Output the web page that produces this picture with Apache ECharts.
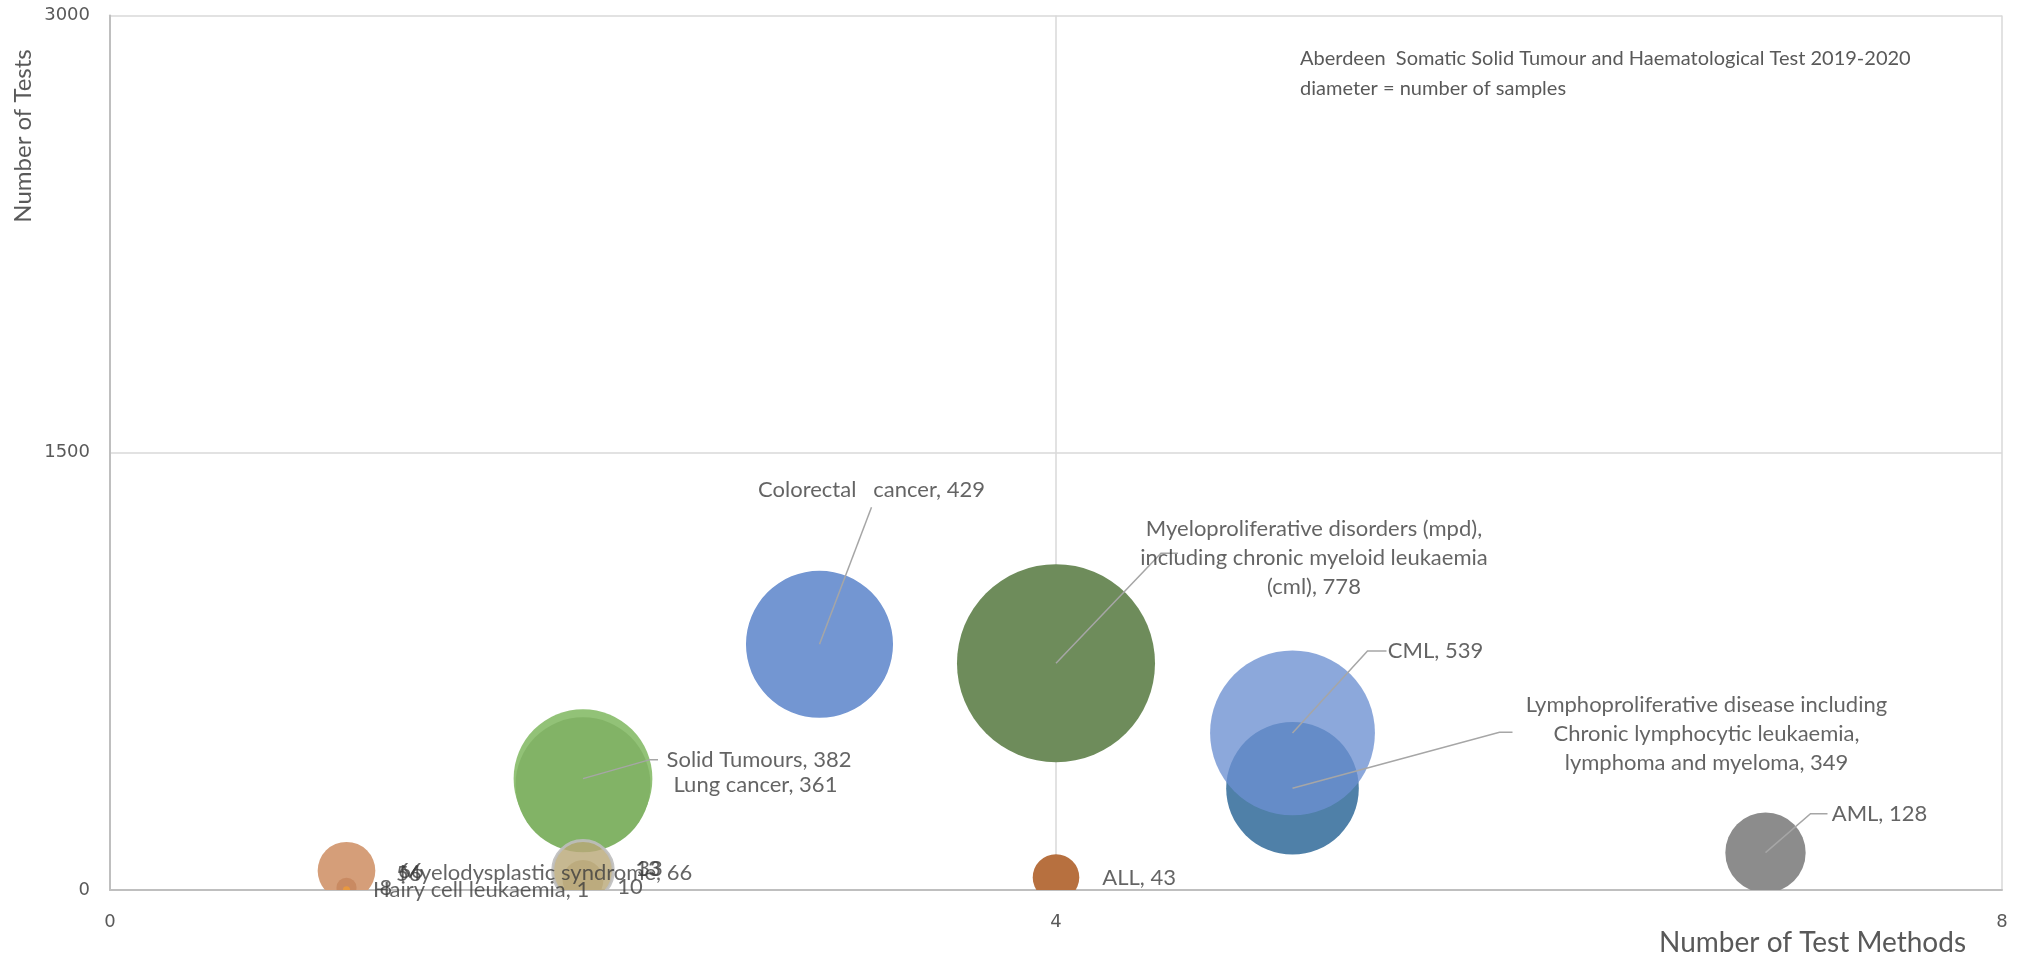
<!DOCTYPE html>
<html>
<head>
<meta charset="utf-8">
<title>Aberdeen Somatic Solid Tumour and Haematological Test 2019-2020</title>
<script src="https://cdn.jsdelivr.net/npm/echarts@6/dist/echarts.min.js"></script>
<style>
  html, body { margin: 0; padding: 0; background: #ffffff; }
  #chart { width: 2028px; height: 954px; }
</style>
</head>
<body>
<div id="chart"></div>
<script>
// ---- data -------------------------------------------------------------
// Each bubble: category name (empty = value-only label), number of test
// methods (x), number of tests (y) and number of samples (bubble size).
const categories = [
  'Lymphoproliferative disease including\nChronic lymphocytic leukaemia,\nlymphoma and myeloma',
  'CML',
  'Myeloproliferative disorders (mpd),\nincluding chronic myeloid leukaemia\n(cml)',
  'Colorectal   cancer',
  'Solid Tumours',
  'Lung cancer',
  'AML',
  'ALL',
  '',
  '',
  '',
  'Hairy cell leukaemia',
  '',
  '',
  '',
  'Myelodysplastic syndrome'
];
const testMethods = [5, 5, 4, 3, 2, 2, 7, 4, 1, 1, 1, 1, 2, 2, 2, 2];
const numberOfTests = [349, 539, 778, 843, 382, 361, 128, 43, 56, 66, 8, 1, 33, 13, 10, 66];
const numberOfSamples = [349, 539, 778, 429, 382, 361, 128, 43, 56, 66, 8, 1, 33, 13, 10, 66];

const xTicks = [0, 4, 8];
const yTicks = [0, 1500, 3000];

// ---- styling ----------------------------------------------------------
const bubbleFill = [
  '#4f80a8', 'rgba(108,143,209,0.78)', '#6e8c5b', '#7396d2',
  '#92c277', '#82b366', '#8c8c8c', '#b7703f',
  '#d59e79', '#d59e79', '#c98a62', '#e8983f',
  '#c8b994', '#c8b994', '#c8b994', 'rgba(186,168,121,0.82)'
];
const bubbleStroke = [
  null, null, null, null, null, null, null, null,
  null, null, null, null, null, null, null, 'rgba(190,190,190,0.9)'
];
// diameter (px) = BUBBLE_K * sqrt(samples)
const BUBBLE_K = 7.1;

// label placement: 'right' = beside the bubble, otherwise a pixel offset
// of the label centre from the bubble centre
const labelPlacement = [
  [414, -54], [143, -82], [258, -105], [52, -154],
  [176, -19], 'right', [114, -39], 'right',
  'right', 'right', 'right', 'right',
  [67, -11], [65, -17], 'right', [-37, 2]
];
// leader lines: bends/ends relative to bubble centre (px)
const leaderPoints = {
  0: [[207, -56], [220, -56]],
  1: [[75, -82], [94, -82]],
  2: [[105, -110], [122, -110]],
  3: [[52, -137]],
  4: [[67, -19], [75, -19]],
  6: [[45, -39], [62, -39]]
};

const FONT = 'Lato, "Open Sans", sans-serif';
const TEXT_COLOR = '#3d3d3d';

// ---- series data ------------------------------------------------------
const points = testMethods.map((x, i) => [x, numberOfTests[i], numberOfSamples[i], i]);

function labelText(i) {
  const name = categories[i];
  return name ? name + ', ' + numberOfSamples[i] : String(numberOfSamples[i]);
}

const labelData = points.map((p, i) => {
  const place = labelPlacement[i];
  const label = place === 'right'
    ? { position: 'right', distance: 23 }
    : { position: 'inside', offset: place, align: 'center', verticalAlign: 'middle' };
  return { value: p, label: Object.assign({ formatter: labelText(i) }, label) };
});

const leaderData = Object.keys(leaderPoints).map(k => {
  const i = +k;
  return [testMethods[i], numberOfTests[i], i];
});

const chart = echarts.init(document.getElementById('chart'), null, { renderer: 'canvas' });

chart.setOption({
  animation: false,
  backgroundColor: '#ffffff',
  grid: { left: 110, right: 26, top: 15.5, bottom: 64, containLabel: false },
  xAxis: {
    type: 'value',
    min: xTicks[0],
    max: xTicks[xTicks.length - 1],
    interval: xTicks[1] - xTicks[0],
    axisLine: { show: true, lineStyle: { color: '#bfbfbf', width: 2 } },
    axisTick: { show: false },
    axisLabel: {
      margin: 23, color: '#595959', fontSize: 18, fontFamily: 'DejaVu Sans',
      formatter: v => String(v)
    },
    splitLine: { show: true, lineStyle: { color: '#d9d9d9', width: 1.5 } }
  },
  yAxis: {
    type: 'value',
    min: yTicks[0],
    max: yTicks[yTicks.length - 1],
    interval: yTicks[1] - yTicks[0],
    axisLine: { show: true, lineStyle: { color: '#bfbfbf', width: 2 } },
    axisTick: { show: false },
    axisLabel: {
      margin: 20, color: '#595959', fontSize: 18, fontFamily: 'DejaVu Sans',
      formatter: v => String(v)
    },
    splitLine: { show: true, lineStyle: { color: '#d9d9d9', width: 1.5 } }
  },
  graphic: [
    {
      type: 'text', left: 1300, top: 44, z: 10,
      style: {
        text: 'Aberdeen  Somatic Solid Tumour and Haematological Test 2019-2020\ndiameter = number of samples',
        font: '20px ' + FONT, fill: '#595959', lineHeight: 30
      }
    },
    {
      type: 'text', x: 1966, y: 943, z: 10,
      style: {
        text: 'Number of Test Methods', font: '28px ' + FONT, fill: '#595959',
        align: 'right', verticalAlign: 'middle'
      }
    },
    {
      type: 'text', x: 23, y: 136, rotation: Math.PI / 2, z: 10,
      style: {
        text: 'Number of Tests', font: '24px ' + FONT, fill: '#595959',
        align: 'center', verticalAlign: 'middle'
      }
    }
  ],
  series: [
    {
      // bubbles, clipped to the plot area
      type: 'custom',
      name: 'bubbles',
      clip: true,
      silent: true,
      z: 2,
      encode: { x: 0, y: 1 },
      data: points,
      renderItem: function (params, api) {
        const i = api.value(3);
        const c = api.coord([api.value(0), api.value(1)]);
        const r = BUBBLE_K * Math.sqrt(api.value(2)) / 2;
        const stroke = bubbleStroke[i];
        return {
          type: 'circle',
          shape: { cx: c[0], cy: c[1], r: stroke ? r + 1.5 : r },
          style: {
            fill: bubbleFill[i],
            stroke: stroke || null,
            lineWidth: stroke ? 3 : 0
          }
        };
      }
    },
    {
      // leader lines from bubble centres to moved labels
      type: 'custom',
      name: 'leaders',
      clip: false,
      silent: true,
      z: 3,
      encode: { x: 0, y: 1 },
      data: leaderData,
      renderItem: function (params, api) {
        const i = api.value(2);
        const c = api.coord([api.value(0), api.value(1)]);
        const pts = [[c[0], c[1]]].concat(leaderPoints[i].map(o => [c[0] + o[0], c[1] + o[1]]));
        return {
          type: 'polyline',
          shape: { points: pts },
          style: { stroke: '#a6a6a6', lineWidth: 1.5, fill: null }
        };
      }
    },
    {
      // data labels
      type: 'scatter',
      name: 'labels',
      silent: true,
      z: 4,
      data: labelData,
      symbol: 'circle',
      symbolSize: function (val) { return BUBBLE_K * Math.sqrt(val[2]); },
      itemStyle: { color: 'rgba(0,0,0,0)' },
      label: {
        show: true,
        color: TEXT_COLOR,
        fontSize: 22,
        fontFamily: FONT,
        lineHeight: 29
      }
    }
  ]
});
</script>
</body>
</html>
